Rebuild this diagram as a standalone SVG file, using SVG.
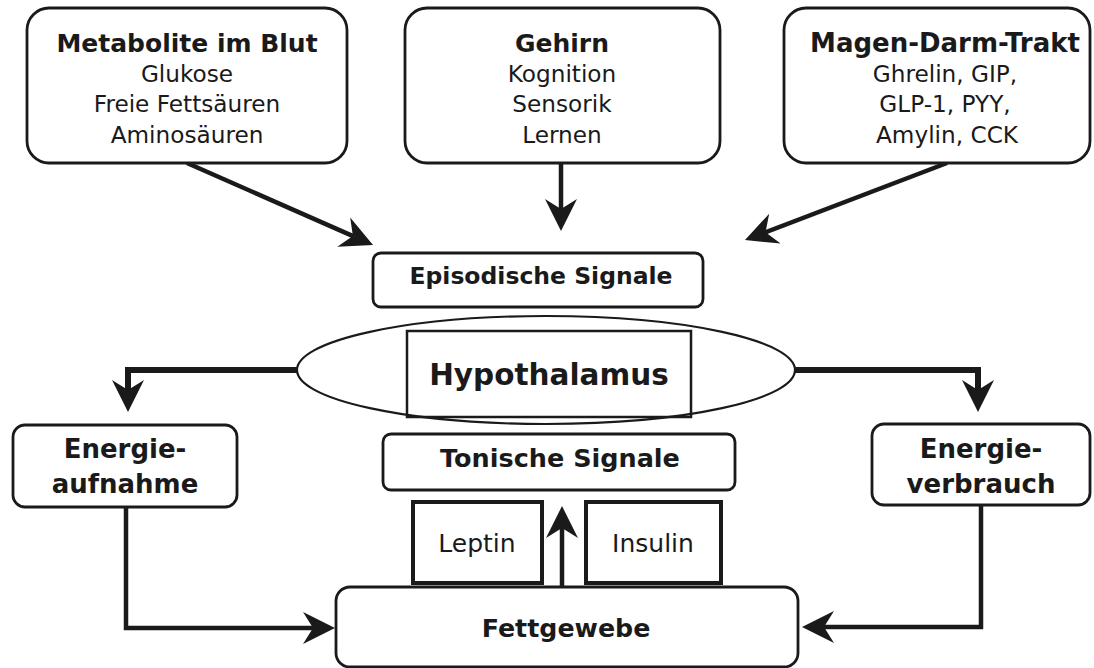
<svg xmlns="http://www.w3.org/2000/svg" width="1094" height="668" viewBox="0 0 1094 668">
<style>
.box{fill:#fff;stroke:#1a1a1a;stroke-width:2.8}
.sq{fill:#fff;stroke:#1a1a1a;stroke-width:4}
.t{font-family:"DejaVu Sans",Verdana,sans-serif;fill:#1a1a1a;text-anchor:middle}
.b{font-weight:bold}
.ti{font-size:25px}
.sub{font-size:23.2px}
.mid{font-size:25.5px}
.con{fill:none;stroke:#1a1a1a;stroke-width:4.5}
.thick{stroke-width:6}
</style>
<defs>
<marker id="ah" viewBox="-20 -20 40 40" markerWidth="40" markerHeight="40" refX="0" refY="0" markerUnits="userSpaceOnUse" orient="auto">
<path d="M15,0 L-17,-16 L-7,0 L-17,16 Z" fill="#1a1a1a"/>
</marker>
</defs>
<g id="connectors">
<path class="con" d="M187,163 L359.3,238.9" marker-end="url(#ah)"/>
<path class="con" d="M561,163 V216" marker-end="url(#ah)"/>
<path class="con" d="M947,163 L759,234.7" marker-end="url(#ah)"/>
<path class="con thick" d="M297,370 H128 V397" marker-end="url(#ah)"/>
<path class="con thick" d="M795,370 H978 V397" marker-end="url(#ah)"/>
<path class="con" d="M126,507 V628 H320" marker-end="url(#ah)"/>
<path class="con" d="M981,505 V627 H817" marker-end="url(#ah)"/>
<path class="con" d="M562,587 V521" marker-end="url(#ah)"/>
</g>
<g id="metabolite">
<rect class="box" x="27" y="8" width="320" height="155" rx="22"/>
<text class="t b ti" x="187" y="52">Metabolite im Blut</text>
<text class="t sub" x="187" y="82">Glukose</text>
<text class="t sub" x="187" y="112">Freie Fettsäuren</text>
<text class="t sub" x="187" y="143">Aminosäuren</text>
</g>
<g id="gehirn">
<rect class="box" x="405" y="8" width="315" height="155" rx="22"/>
<text class="t b ti" x="562" y="52">Gehirn</text>
<text class="t sub" x="562" y="82">Kognition</text>
<text class="t sub" x="562" y="112">Sensorik</text>
<text class="t sub" x="562" y="143">Lernen</text>
</g>
<g id="magen">
<rect class="box" x="784" y="8" width="306" height="155" rx="22"/>
<text class="t b" x="945" y="52" font-size="26">Magen-Darm-Trakt</text>
<text class="t sub" x="945" y="82">Ghrelin, GIP,</text>
<text class="t sub" x="945" y="112">GLP-1, PYY,</text>
<text class="t sub" x="947" y="143">Amylin, CCK</text>
</g>
<g id="episodisch">
<rect class="box" x="373" y="253" width="330" height="54" rx="8"/>
<text class="t b" x="541" y="284" font-size="23.5">Episodische Signale</text>
</g>
<g id="hypothalamus">
<ellipse cx="546" cy="370" rx="249" ry="54" fill="#fff" stroke="#1a1a1a" stroke-width="2.2"/>
<rect x="407" y="331" width="284" height="86" fill="none" stroke="#1a1a1a" stroke-width="2.5"/>
<text class="t b" x="549" y="385" font-size="29.5">Hypothalamus</text>
</g>
<g id="aufnahme">
<rect class="box" x="13" y="425" width="224" height="82" rx="12"/>
<text class="t b" x="125" y="458" font-size="26">Energie-</text>
<text class="t b" x="125" y="493" font-size="26">aufnahme</text>
</g>
<g id="verbrauch">
<rect class="box" x="872" y="424" width="218" height="81" rx="12"/>
<text class="t b" x="981" y="458" font-size="26">Energie-</text>
<text class="t b" x="981" y="493" font-size="26">verbrauch</text>
</g>
<g id="tonisch">
<rect class="box" x="383" y="434" width="352" height="56" rx="8"/>
<text class="t b mid" x="560" y="467">Tonische Signale</text>
</g>
<g id="leptin">
<rect class="sq" x="413" y="502" width="129" height="81"/>
<text class="t" x="477" y="552" font-size="25">Leptin</text>
</g>
<g id="insulin">
<rect class="sq" x="586" y="502" width="135" height="81"/>
<text class="t" x="653" y="552" font-size="25">Insulin</text>
</g>
<g id="fettgewebe">
<rect class="box" x="336" y="587" width="462" height="80" rx="14"/>
<text class="t b" x="566" y="637" font-size="25.3">Fettgewebe</text>
</g>
</svg>
